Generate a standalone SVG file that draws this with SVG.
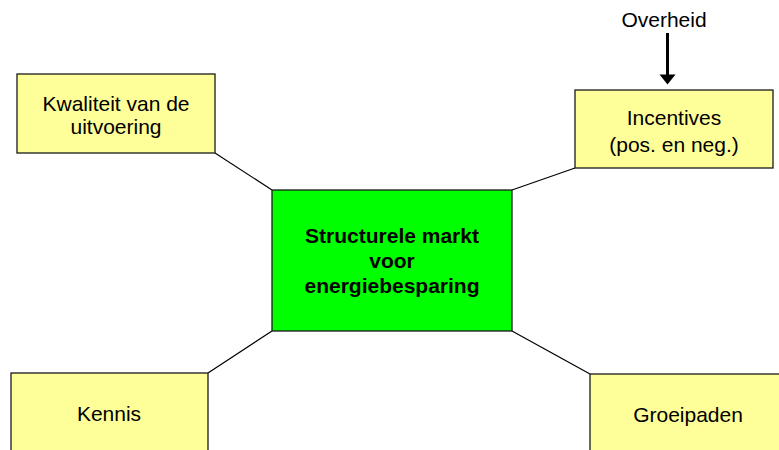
<svg xmlns="http://www.w3.org/2000/svg" width="779" height="450" viewBox="0 0 779 450">
  <style>
    .box { fill: #FFFF99; stroke: #1a1a1a; stroke-width: 1.3; }
    .core { fill: #00FF00; stroke: #1a1a1a; stroke-width: 1.3; }
    .lbl { font-family: "Liberation Sans", Arial, sans-serif; font-size: 21px; fill: #000; text-anchor: middle; }
    .bold { font-weight: bold; }
    .link { stroke: #000; stroke-width: 1.2; fill: none; }
  </style>

  <!-- connectors -->
  <g id="connectors">
    <line class="link" x1="215" y1="153" x2="272" y2="190"/>
    <line class="link" x1="512" y1="190" x2="575" y2="168"/>
    <line class="link" x1="208" y1="373" x2="272" y2="331"/>
    <line class="link" x1="512" y1="331" x2="590" y2="374"/>
    <!-- Overheid -> Incentives -->
    <line x1="667.5" y1="33" x2="667.5" y2="76" stroke="#000" stroke-width="3"/>
    <path d="M659.5,74.5 L675.5,74.5 L667.5,84.5 Z" fill="#000"/>
  </g>

  <g id="overheid">
    <text class="lbl" x="664" y="27">Overheid</text>
  </g>

  <g id="center">
    <rect class="core" x="272" y="190" width="240" height="141"/>
    <text class="lbl bold" x="392" y="243">Structurele markt</text>
    <text class="lbl bold" x="392" y="268">voor</text>
    <text class="lbl bold" x="392" y="293">energiebesparing</text>
  </g>

  <g id="kwaliteit">
    <rect class="box" x="17" y="74" width="198" height="79"/>
    <text class="lbl" x="116" y="111">Kwaliteit van de</text>
    <text class="lbl" x="116" y="134">uitvoering</text>
  </g>

  <g id="incentives">
    <rect class="box" x="575" y="90" width="198" height="78"/>
    <text class="lbl" x="674" y="125">Incentives</text>
    <text class="lbl" x="674" y="152">(pos. en neg.)</text>
  </g>

  <g id="kennis">
    <rect class="box" x="11" y="373" width="197" height="80"/>
    <text class="lbl" x="109" y="421">Kennis</text>
  </g>

  <g id="groeipaden">
    <rect class="box" x="590" y="374" width="198" height="80"/>
    <text class="lbl" x="688" y="422">Groeipaden</text>
  </g>
</svg>
